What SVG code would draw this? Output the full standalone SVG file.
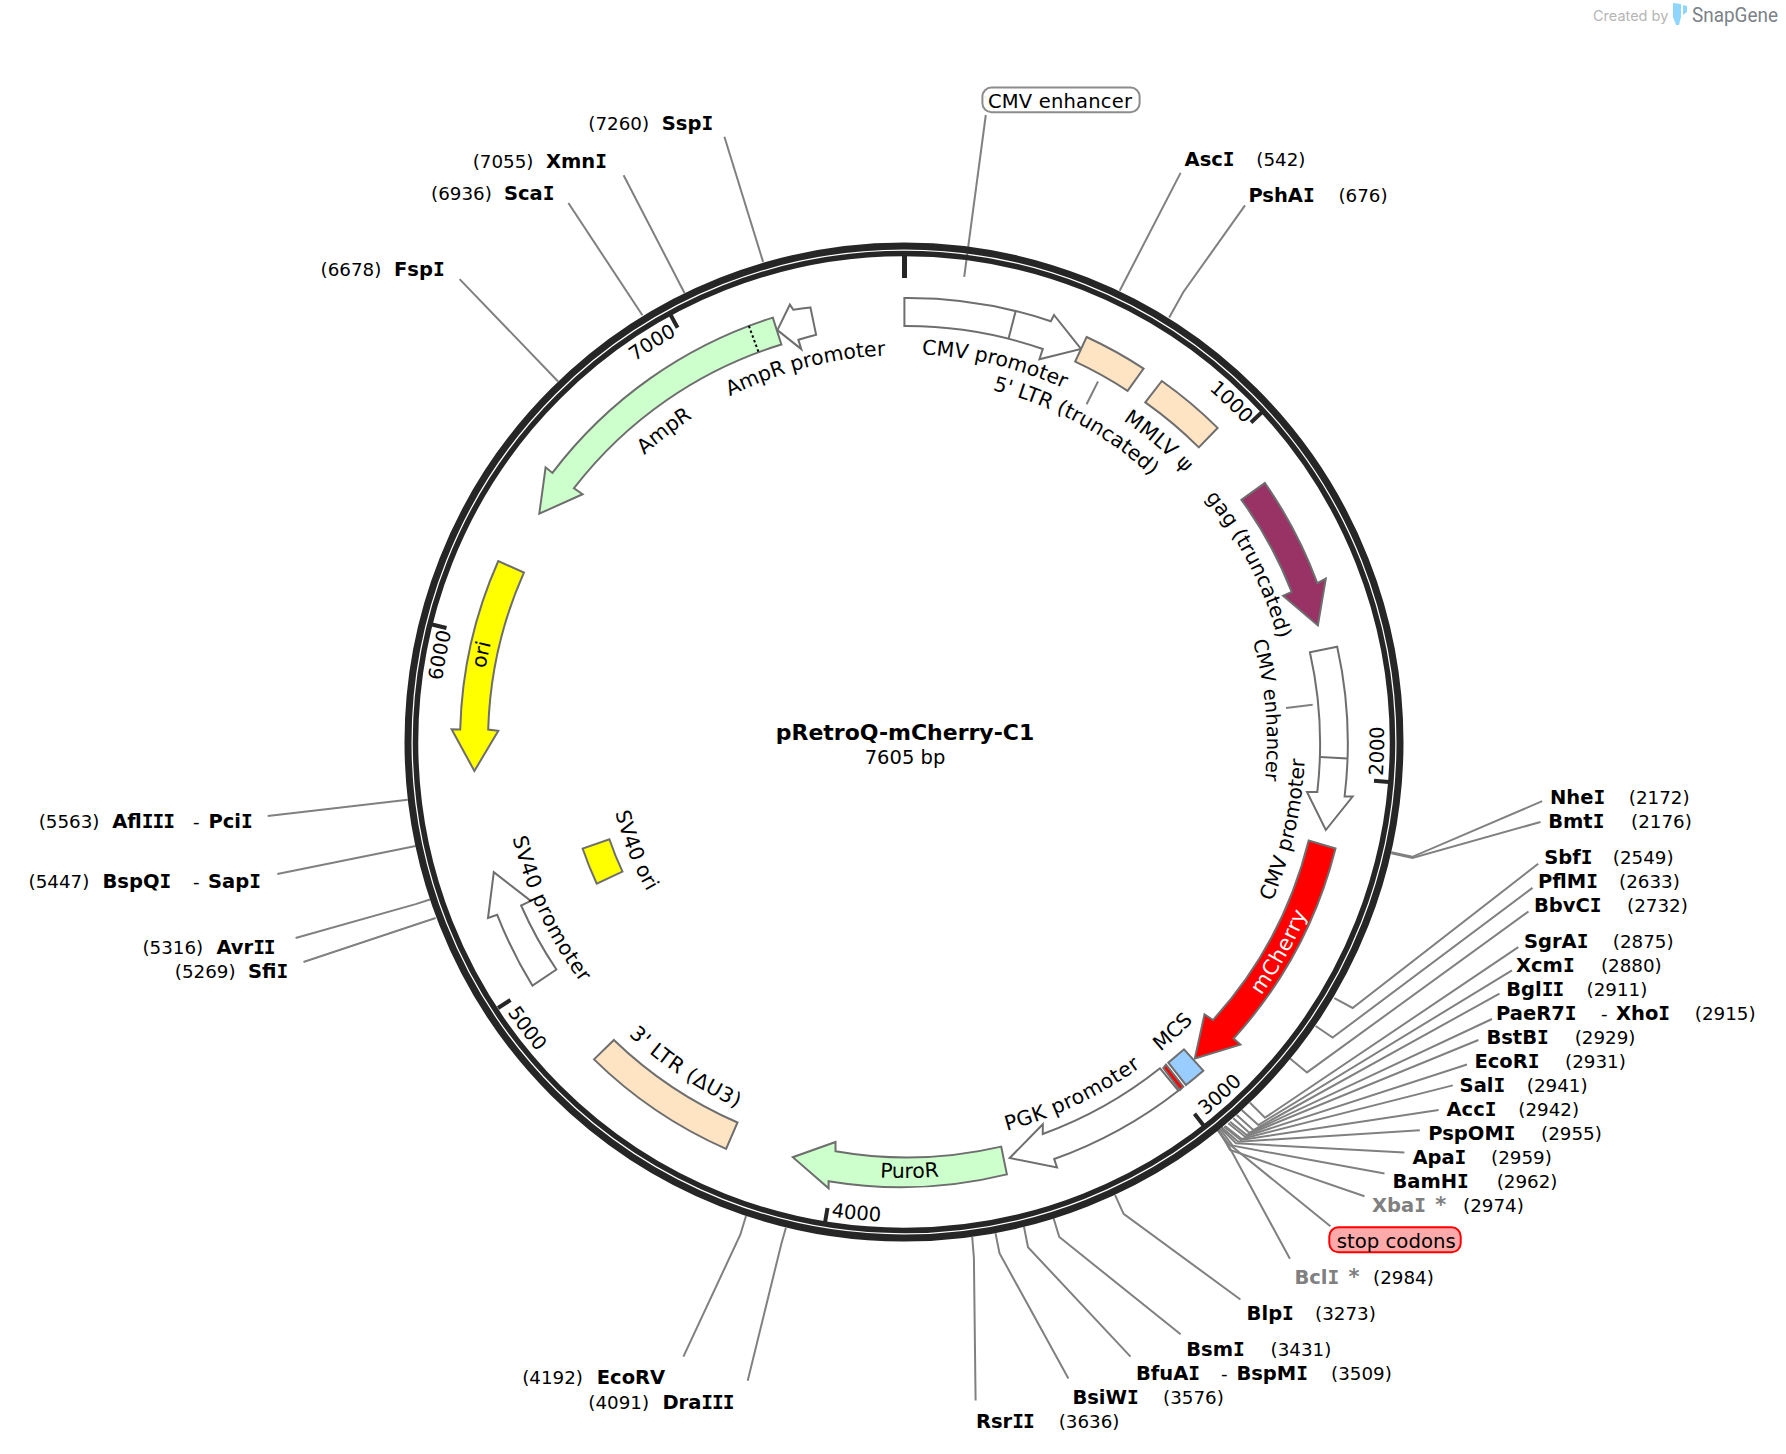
<svg xmlns="http://www.w3.org/2000/svg" width="1786" height="1454" viewBox="0 0 1786 1454">
<style>
text{font-family:"DejaVu Sans",sans-serif;fill:#000}
.n{font-size:18.3px}
.b{font-size:19.5px;font-weight:bold}
.i{font-family:"DejaVu Sans Mono",monospace;letter-spacing:-1px}
.g{fill:#808080}
.arc{font-size:20.4px}
.ls{letter-spacing:.6px}
.num{font-size:19.6px}
.m{text-anchor:middle}
.f{stroke:#6e6e6e;stroke-width:2;stroke-linejoin:miter}
.w{fill:#fff}.gr{fill:#ccffcc}.o{fill:#ffe4c4}.y{fill:#ffff00}.r{fill:#ff0000}.pu{fill:#993366}.bl{fill:#99ccff}
.l{fill:none;stroke:#808080;stroke-width:2}
.ring{fill:none;stroke:#262626}
.t{stroke:#262626;stroke-width:4}
</style>
<defs>
<path id="c388b" d="M904 354A388 388 0 1 1 904 1130A388 388 0 1 1 904 354"/>
<path id="c363" d="M904 379A363 363 0 1 1 904 1105A363 363 0 1 1 904 379"/>
<path id="c389" d="M904 353A389 389 0 1 1 904 1131A389 389 0 1 1 904 353"/>
<path id="c388" d="M904 354A388 388 0 1 1 904 1130A388 388 0 1 1 904 354"/>
<path id="c387" d="M904 355A387 387 0 1 1 904 1129A387 387 0 1 1 904 355"/>
<path id="c425" d="M904 317A425 425 0 1 1 904 1167A425 425 0 1 1 904 317"/>
<path id="c466" d="M904 276A466 466 0 1 1 904 1208A466 466 0 1 1 904 276"/>
<path id="a401" d="M904 341A401 401 0 1 0 904 1143A401 401 0 1 0 904 341"/>
<path id="a297" d="M904 445A297 297 0 1 0 904 1039A297 297 0 1 0 904 445"/>
<path id="a402" d="M904 340A402 402 0 1 0 904 1144A402 402 0 1 0 904 340"/>
<path id="a403" d="M904 339A403 403 0 1 0 904 1145A403 403 0 1 0 904 339"/>
<path id="a436" d="M904 306A436 436 0 1 0 904 1178A436 436 0 1 0 904 306"/>
<path id="a438" d="M904 304A438 438 0 1 0 904 1180A438 438 0 1 0 904 304"/>
<path id="a480" d="M904 262A480 480 0 1 0 904 1222A480 480 0 1 0 904 262"/>
</defs>
<g id="connectors">
<polyline class="l" points="724.4,136.8 763.1,261.9"/>
<polyline class="l" points="623.6,175.2 684.5,293"/>
<polyline class="l" points="568.4,203 642.4,315.3"/>
<polyline class="l" points="459.6,279.1 558.1,381.5"/>
<polyline class="l" points="985.8,115 964.2,276.8"/>
<polyline class="l" points="1180.6,172.9 1119.7,290.7"/>
<polyline class="l" points="1245,205.4 1183.4,292 1169.2,317.6"/>
<polyline class="l" points="267.7,816 407.8,799.8"/>
<polyline class="l" points="277.3,874 415.7,846.1"/>
<polyline class="l" points="295.6,938 415.7,904.1 430,899.5"/>
<polyline class="l" points="303.5,962 424.3,921.7 435.7,918"/>
<polyline class="l" points="683.4,1356.6 740.3,1234.7 746,1216"/>
<polyline class="l" points="747.7,1380.7 781.3,1244 785.9,1227.7"/>
<polyline class="l" points="1391.3,852.2 1412.4,856.8 1542.2,801.2"/>
<polyline class="l" points="1391.3,853.2 1412.4,858 1540.5,822"/>
<polyline class="l" points="1334.4,998.2 1352.6,1008 1538.2,863.8"/>
<polyline class="l" points="1315.6,1026 1332.6,1037.6 1532.5,887.9"/>
<polyline class="l" points="1290,1058.5 1307,1072.4 1528.5,911.5"/>
<polyline class="l" points="1250,1102.7 1265,1117.7 1518.3,947.2"/>
<polyline class="l" points="1241.7,1110 1258.3,1125 1512,970.4"/>
<polyline class="l" points="1236.7,1115 1253.3,1130 1499.5,993.6"/>
<polyline class="l" points="1233.3,1118.3 1249.3,1132.7 1492,1019"/>
<polyline class="l" points="1230,1121.7 1246.7,1135 1478.4,1040"/>
<polyline class="l" points="1228.3,1123.3 1245,1136.7 1467,1064.5"/>
<polyline class="l" points="1225,1126 1241.7,1139 1452.8,1085.4"/>
<polyline class="l" points="1224,1126.5 1240.7,1140 1438.6,1110"/>
<polyline class="l" points="1221.7,1127.3 1238.3,1141.7 1419.8,1130.3"/>
<polyline class="l" points="1221,1128.3 1236,1143.3 1404.4,1152.6"/>
<polyline class="l" points="1220,1129 1232.7,1145.7 1384.5,1173.5"/>
<polyline class="l" points="1219,1130 1230,1150 1364.5,1196.2"/>
<polyline class="l" points="1218,1130 1229,1144 1330.4,1226.3"/>
<polyline class="l" points="1217.6,1130.3 1229,1146.6 1289.9,1258.8"/>
<polyline class="l" points="1115.1,1195.2 1123.6,1213.8 1240.4,1299.5"/>
<polyline class="l" points="1053.6,1218.4 1059.3,1237 1180.6,1334.3"/>
<polyline class="l" points="1024,1226.8 1028,1247.2 1130.5,1356.6"/>
<polyline class="l" points="995.5,1233.3 999.5,1253.2 1068.4,1378.4"/>
<polyline class="l" points="972.2,1237 973.9,1257.8 975.6,1400.6"/>
<polyline class="l" points="1098,381.5 1086.6,404.3"/>
<polyline class="l" points="1286,708 1312.7,704.7"/>
</g>
<g id="backbone">
<circle class="ring" cx="904" cy="742" r="496" stroke-width="7"/>
<circle class="ring" cx="904" cy="742" r="488.5" stroke-width="5.5"/>
<line class="t" x1="904.5" y1="255" x2="904.5" y2="278" style="stroke-width:5"/>
<g id="ticks">
<line class="t" x1="1261.8" y1="412.3" x2="1251" y2="422.5"/>
<line class="t" x1="1389" y1="782" x2="1374" y2="780.8"/>
<line class="t" x1="1203.8" y1="1125.8" x2="1194.5" y2="1113.8"/>
<line class="t" x1="825" y1="1222.5" x2="827.5" y2="1208"/>
<line class="t" x1="498" y1="1008" x2="510.5" y2="1000"/>
<line class="t" x1="432" y1="624.5" x2="446.5" y2="628"/>
<line class="t" x1="670.5" y1="314.8" x2="677.6" y2="327.8"/>
<text class="num"><textPath href="#c466" startOffset="13.05%" text-anchor="end">1000</textPath></text>
<text class="num"><textPath href="#a480" startOffset="73.87%">2000</textPath></text>
<text class="num"><textPath href="#a480" startOffset="60.8%">3000</textPath></text>
<text class="num"><textPath href="#a480" startOffset="47.57%">4000</textPath></text>
<text class="num"><textPath href="#a480" startOffset="34.52%">5000</textPath></text>
<text class="num"><textPath href="#c466" startOffset="78.8%" text-anchor="end">6000</textPath></text>
<text class="num"><textPath href="#c466" startOffset="91.9%" text-anchor="end">7000</textPath></text>
</g>
</g>
<g id="title">
<text class="m" x="905" y="740" font-size="22" font-weight="bold">pRetroQ-mCherry-C1</text>
<text class="m" x="905" y="764" font-size="19.5">7605 bp</text>
</g>
<g id="f-cmvpromoter1">
<path class="f w" d="M904.4 298A444 444 0 0 1 1050.8 321.3L1054 315L1081 349L1039.4 359.3L1042.8 349A416 416 0 0 0 904.4 326Z"/>
<line class="f" x1="1015.4" y1="312" x2="1008.6" y2="338.4"/>
<text class="arc"><textPath href="#c388b" startOffset="3.75%" text-anchor="middle">CMV promoter</textPath></text>
</g>
<g id="f-5ltr">
<path class="f o" d="M1086.6 337A444 444 0 0 1 1143.6 368.6L1127.6 390.8A416 416 0 0 0 1075.2 361.6Z"/>
<text class="arc"><textPath href="#c363" startOffset="7.92%" text-anchor="middle">5' LTR (truncated)</textPath></text>
</g>
<g id="f-mmlv">
<path class="f o" d="M1161.8 381A444 444 0 0 1 1217.6 427.9L1198.8 447.4A416 416 0 0 0 1145.3 402.4Z"/>
<text class="arc ls"><textPath href="#c389" startOffset="11.19%" text-anchor="middle">MMLV ψ</textPath></text>
</g>
<g id="f-gag">
<path class="f pu" d="M1264.9 483A444 444 0 0 1 1317.3 583.2L1325.8 578.6L1317.9 625.4L1283.1 595.7L1291.7 592A416 416 0 0 0 1241.5 499.8Z"/>
<text class="arc"><textPath href="#c388" startOffset="17.44%" text-anchor="middle">gag (truncated)</textPath></text>
</g>
<g id="f-cmv2">
<path class="f w" d="M1337.2 646.7A444 444 0 0 1 1344.6 796.5L1352.6 796.5L1325.8 830L1307 791.9L1317.3 791.9A416 416 0 0 0 1309.9 652.3Z"/>
<line class="f" x1="1320.1" y1="757.1" x2="1347.5" y2="758.5"/>
<text font-size="19.4"><textPath href="#c363" startOffset="23.6%" text-anchor="middle">CMV enhancer</textPath></text>
<text class="arc"><textPath href="#a401" startOffset="71.4%" text-anchor="middle">CMV promoter</textPath></text>
</g>
<g id="f-mcherry">
<path class="f r" d="M1335.5 848.5A444 444 0 0 1 1233.6 1038.5L1240.4 1044.6L1194.8 1058.5L1204.5 1014.4L1213 1020A416 416 0 0 0 1308.7 840.6Z"/>
<text class="arc ls" style="fill:#fff;font-size:21px"><textPath href="#a438" startOffset="66.9%" text-anchor="middle">mCherry</textPath></text>
</g>
<g id="f-mcs">
<path class="f bl" d="M1184 1049.3L1203.3 1070.7A444 444 0 0 1 1186 1085L1168.3 1062.7Z"/>
<path class="f r" d="M1166 1064.7L1183.3 1086.7L1180 1090L1163.3 1068Z"/>
<text class="arc"><textPath href="#a402" startOffset="61.9%" text-anchor="middle">MCS</textPath></text>
</g>
<g id="f-pgk">
<path class="f w" d="M1178.3 1090.7A444 444 0 0 1 1054.2 1159L1057 1167.4L1009.7 1158L1042.8 1124.3L1042.8 1134A416 416 0 0 0 1160 1068.3Z"/>
<text class="arc ls"><textPath href="#a402" startOffset="57.08%" text-anchor="middle">PGK promoter</textPath></text>
</g>
<g id="f-puror">
<path class="f gr" d="M1006.9 1174.4A444 444 0 0 1 828.6 1181.3L828.6 1188.3L792.8 1157.2L835.5 1142L835.5 1151.2A416 416 0 0 0 1001.2 1146.6Z"/>
<text class="arc"><textPath href="#a436" startOffset="50.2%" text-anchor="middle">PuroR</textPath></text>
</g>
<g id="f-3ltr">
<path class="f o" d="M726.1 1148.9A444 444 0 0 1 594 1059.4L613.9 1040A416 416 0 0 0 737.5 1122.5Z"/>
<text class="arc ls"><textPath href="#a402" startOffset="40.6%" text-anchor="middle">3' LTR (ΔU3)</textPath></text>
</g>
<g id="f-sv40p">
<path class="f w" d="M532.5 985.7A444 444 0 0 1 497.2 914.8L488 918L493.8 872.1L530.8 900.9L521.1 905.5A416 416 0 0 0 556.4 969.5Z"/>
<text class="arc ls"><textPath href="#a403" startOffset="32.02%" text-anchor="middle">SV40 promoter</textPath></text>
</g>
<g id="f-sv40ori">
<path class="f y" d="M596.8 883.7A338.5 338.5 0 0 1 582.6 848.5L609.4 839.2A310 310 0 0 0 622.5 871.6Z"/>
<text class="arc"><textPath href="#a297" startOffset="31.1%" text-anchor="middle">SV40 ori</textPath></text>
</g>
<g id="f-ori">
<path class="f y" d="M498.3 561A444 444 0 0 0 460.2 729.5L451.6 729.3L474.4 771L498.3 730.7L488.2 729.5A416 416 0 0 1 523.9 572.6Z"/>
<text class="arc"><textPath href="#c425" startOffset="78.25%" text-anchor="middle">ori</textPath></text>
</g>
<g id="f-ampr">
<path class="f gr" d="M772.8 317.6A444 444 0 0 0 552.4 472.9L545.6 467.3L539.3 513.7L582.6 494.2L574 488.2A416 416 0 0 1 781.4 344.5Z"/>
<line x1="748.9" y1="325.9" x2="758.6" y2="352.3" stroke="#000" stroke-width="2" stroke-dasharray="2.5 2.5"/>
<text class="arc"><textPath href="#c387" startOffset="89.55%" text-anchor="middle">AmpR</textPath></text>
</g>
<g id="f-amprp">
<path class="f w" d="M810.4 307.4A444 444 0 0 0 793.3 309.7L789.9 304.6L777.4 330.1L801.3 349.1L798.4 339.8A416 416 0 0 1 816.1 334.7Z"/>
<text class="arc"><textPath href="#c387" startOffset="95.9%" text-anchor="middle">AmpR promoter</textPath></text>
</g>
<g id="l-cmvenh">
<rect x="982.4" y="87.6" width="157.2" height="24.6" rx="9" fill="#fff" stroke="#8c8c8c" stroke-width="2"/>
<text x="988" y="108" font-size="19.5" textLength="144">CMV enhancer</text>
</g>
<g id="l-stop">
<rect x="1329.3" y="1227.3" width="131.4" height="25" rx="9" fill="#ffaaaa" stroke="#ff0000" stroke-width="2"/>
<text x="1336.7" y="1247.5" font-size="19.7" textLength="119">stop codons</text>
</g>
<g id="sites">
<g id="s-sspi"><text class="n" x="588.3" y="130">(7260)</text><text class="b" x="661.8" y="130">Ssp<tspan class="i">I</tspan></text></g>
<g id="s-xmni"><text class="n" x="472.7" y="168.3">(7055)</text><text class="b" x="546" y="168.3">Xmn<tspan class="i">I</tspan></text></g>
<g id="s-scai"><text class="n" x="431" y="200.3">(6936)</text><text class="b" x="504" y="200.3">Sca<tspan class="i">I</tspan></text></g>
<g id="s-fspi"><text class="n" x="320.6" y="276.3">(6678)</text><text class="b" x="394" y="276.3">Fsp<tspan class="i">I</tspan></text></g>
<g id="s-asci"><text class="b" x="1184.6" y="166">Asc<tspan class="i">I</tspan></text><text class="n" x="1256.3" y="166">(542)</text></g>
<g id="s-pshai"><text class="b" x="1248.4" y="202">PshA<tspan class="i">I</tspan></text><text class="n" x="1338.4" y="202">(676)</text></g>
<g id="s-afliii"><text class="n" x="38.7" y="828">(5563)</text><text class="b" x="112.2" y="828">Afl<tspan class="i">III</tspan></text><text class="n" x="193" y="828">-</text><text class="b" x="208.5" y="828">Pci<tspan class="i">I</tspan></text></g>
<g id="s-bspqi"><text class="n" x="28.5" y="888.3">(5447)</text><text class="b" x="102.5" y="888.3">BspQ<tspan class="i">I</tspan></text><text class="n" x="193" y="888.3">-</text><text class="b" x="208" y="888.3">Sap<tspan class="i">I</tspan></text></g>
<g id="s-avrii"><text class="n" x="142.4" y="954.2">(5316)</text><text class="b" x="216.4" y="954.2">Avr<tspan class="i">II</tspan></text></g>
<g id="s-sfii"><text class="n" x="174.8" y="978.3">(5269)</text><text class="b" x="248" y="978.3">Sfi<tspan class="i">I</tspan></text></g>
<g id="s-ecorv"><text class="n" x="522.2" y="1384.4">(4192)</text><text class="b" x="596.8" y="1384.4">EcoRV</text></g>
<g id="s-draiii"><text class="n" x="588.3" y="1408.5">(4091)</text><text class="b" x="662.4" y="1408.5">Dra<tspan class="i">III</tspan></text></g>
<g id="s-nhei"><text class="b" x="1550" y="804">Nhe<tspan class="i">I</tspan></text><text class="n" x="1628.8" y="804">(2172)</text></g>
<g id="s-bmti"><text class="b" x="1548.2" y="828.1">Bmt<tspan class="i">I</tspan></text><text class="n" x="1631" y="828.1">(2176)</text></g>
<g id="s-sbfi"><text class="b" x="1544.2" y="864.2">Sbf<tspan class="i">I</tspan></text><text class="n" x="1612.8" y="864.2">(2549)</text></g>
<g id="s-pflmi"><text class="b" x="1538" y="887.9">PflM<tspan class="i">I</tspan></text><text class="n" x="1619" y="887.9">(2633)</text></g>
<g id="s-bbvci"><text class="b" x="1534" y="912">BbvC<tspan class="i">I</tspan></text><text class="n" x="1627" y="912">(2732)</text></g>
<g id="s-sgrai"><text class="b" x="1524" y="948.1">SgrA<tspan class="i">I</tspan></text><text class="n" x="1612.8" y="948.1">(2875)</text></g>
<g id="s-xcmi"><text class="b" x="1516" y="972.2">Xcm<tspan class="i">I</tspan></text><text class="n" x="1600.9" y="972.2">(2880)</text></g>
<g id="s-bglii"><text class="b" x="1506.2" y="996.4">Bgl<tspan class="i">II</tspan></text><text class="n" x="1586.6" y="996.4">(2911)</text></g>
<g id="s-paer7i"><text class="b" x="1496" y="1020">PaeR7<tspan class="i">I</tspan></text><text class="n" x="1601" y="1020">-</text><text class="b" x="1616" y="1020">Xho<tspan class="i">I</tspan></text><text class="n" x="1694.8" y="1020">(2915)</text></g>
<g id="s-bstbi"><text class="b" x="1486.4" y="1044.1">BstB<tspan class="i">I</tspan></text><text class="n" x="1574.7" y="1044.1">(2929)</text></g>
<g id="s-ecori"><text class="b" x="1474.4" y="1068.2">EcoR<tspan class="i">I</tspan></text><text class="n" x="1565" y="1068.2">(2931)</text></g>
<g id="s-sali"><text class="b" x="1459.6" y="1092.3">Sal<tspan class="i">I</tspan></text><text class="n" x="1526.8" y="1092.3">(2941)</text></g>
<g id="s-acci"><text class="b" x="1446.5" y="1116.4">Acc<tspan class="i">I</tspan></text><text class="n" x="1518.3" y="1116.4">(2942)</text></g>
<g id="s-pspomi"><text class="b" x="1428.3" y="1140">PspOM<tspan class="i">I</tspan></text><text class="n" x="1541" y="1140">(2955)</text></g>
<g id="s-apai"><text class="b" x="1412.4" y="1164.2">Apa<tspan class="i">I</tspan></text><text class="n" x="1491" y="1164.2">(2959)</text></g>
<g id="s-bamhi"><text class="b" x="1392.4" y="1188.3">BamH<tspan class="i">I</tspan></text><text class="n" x="1496.7" y="1188.3">(2962)</text></g>
<g id="s-xbai"><text class="b g" x="1372" y="1212.4">Xba<tspan class="i g">I</tspan><tspan dx="3" font-size="21"> *</tspan></text><text class="n" x="1463" y="1212.4">(2974)</text></g>
<g id="s-bcli"><text class="b g" x="1294.4" y="1283.8">Bcl<tspan class="i g">I</tspan><tspan dx="3" font-size="21"> *</tspan></text><text class="n" x="1373" y="1283.8">(2984)</text></g>
<g id="s-blpi"><text class="b" x="1246.6" y="1320.4">Blp<tspan class="i">I</tspan></text><text class="n" x="1315" y="1320.4">(3273)</text></g>
<g id="s-bsmi"><text class="b" x="1186.2" y="1356.1">Bsm<tspan class="i">I</tspan></text><text class="n" x="1270.6" y="1356.1">(3431)</text></g>
<g id="s-bfuai"><text class="b" x="1136" y="1379.8">BfuA<tspan class="i">I</tspan></text><text class="n" x="1221" y="1379.8">-</text><text class="b" x="1236.4" y="1379.8">BspM<tspan class="i">I</tspan></text><text class="n" x="1331" y="1379.8">(3509)</text></g>
<g id="s-bsiwi"><text class="b" x="1072.4" y="1403.9">BsiW<tspan class="i">I</tspan></text><text class="n" x="1163" y="1403.9">(3576)</text></g>
<g id="s-rsrii"><text class="b" x="976" y="1428">Rsr<tspan class="i">II</tspan></text><text class="n" x="1058.7" y="1428">(3636)</text></g>
</g>
<g id="credit">
<text x="1593" y="21" font-size="14.5" style="font-family:Inter,sans-serif;fill:#b5b5b5">Created by</text>
<path d="M1673 3L1681 4V17L1679 25H1676L1673 17ZM1683 5L1687 6V12L1683 15Z" fill="#8fd6ff"/>
<text x="1692" y="22" font-size="20" textLength="86" lengthAdjust="spacingAndGlyphs" style="font-family:Roboto,sans-serif;fill:#7b8288">SnapGene</text>
</g>
</svg>
